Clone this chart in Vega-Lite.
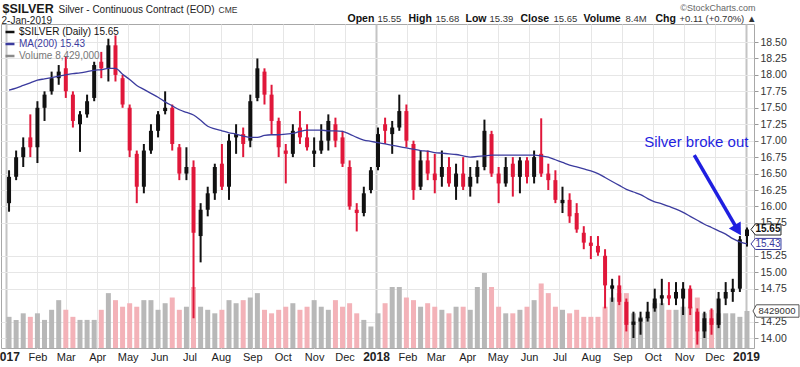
{
"$schema":"https://vega.github.io/schema/vega-lite/v6.json",
"width":753,"height":324,
"autosize":{"type":"none"},
"padding":{"left":1,"top":24,"right":46,"bottom":19},
"background":"white",
"config":{"view":{"stroke":"#a8a8a8","strokeWidth":1},"axis":{"grid":false,"labelFont":"Liberation Sans","titleFont":"Liberation Sans"},"text":{"font":"Liberation Sans"}},
"datasets":{
"px":[
{"d":"2017-01-04","o":16.05,"h":16.55,"l":15.92,"c":16.45,"v":7100000,"ma":17.77},
{"d":"2017-01-11","o":16.45,"h":16.85,"l":16.4,"c":16.75,"v":6400000,"ma":17.8},
{"d":"2017-01-18","o":16.75,"h":17.05,"l":16.6,"c":16.9,"v":7900000,"ma":17.84},
{"d":"2017-01-25","o":17.05,"h":17.4,"l":16.75,"c":16.9,"v":7100000,"ma":17.88},
{"d":"2017-02-01","o":16.9,"h":17.6,"l":16.66,"c":17.5,"v":7900000,"ma":17.92},
{"d":"2017-02-08","o":17.5,"h":17.75,"l":17.3,"c":17.7,"v":6400000,"ma":17.94},
{"d":"2017-02-15","o":17.75,"h":18.05,"l":17.7,"c":17.95,"v":8700000,"ma":17.96},
{"d":"2017-02-22","o":17.95,"h":18.15,"l":17.85,"c":18.05,"v":10900000,"ma":17.98},
{"d":"2017-03-01","o":18.1,"h":18.28,"l":17.65,"c":17.75,"v":8700000,"ma":18.0},
{"d":"2017-03-08","o":17.7,"h":17.75,"l":17.2,"c":17.3,"v":7100000,"ma":18.02},
{"d":"2017-03-15","o":17.25,"h":17.45,"l":16.83,"c":17.4,"v":6400000,"ma":18.03},
{"d":"2017-03-22","o":17.4,"h":17.7,"l":17.35,"c":17.6,"v":6400000,"ma":18.05},
{"d":"2017-03-29","o":17.65,"h":18.2,"l":17.6,"c":18.15,"v":6400000,"ma":18.07},
{"d":"2017-04-05","o":18.2,"h":18.35,"l":17.95,"c":18.1,"v":8700000,"ma":18.08},
{"d":"2017-04-12","o":18.1,"h":18.55,"l":17.9,"c":18.45,"v":12500000,"ma":18.1},
{"d":"2017-04-19","o":18.45,"h":18.6,"l":17.9,"c":18.0,"v":10900000,"ma":18.1},
{"d":"2017-04-26","o":17.95,"h":18.0,"l":17.5,"c":17.55,"v":9400000,"ma":18.01},
{"d":"2017-05-03","o":17.5,"h":17.55,"l":16.75,"c":16.85,"v":10200000,"ma":17.93},
{"d":"2017-05-10","o":16.8,"h":16.85,"l":16.05,"c":16.3,"v":9400000,"ma":17.84},
{"d":"2017-05-17","o":16.3,"h":16.95,"l":16.2,"c":16.85,"v":10900000,"ma":17.78},
{"d":"2017-05-24","o":16.85,"h":17.25,"l":16.8,"c":17.15,"v":10900000,"ma":17.72},
{"d":"2017-05-31","o":17.15,"h":17.45,"l":17.05,"c":17.4,"v":8700000,"ma":17.66},
{"d":"2017-06-07","o":17.45,"h":17.75,"l":17.4,"c":17.5,"v":10200000,"ma":17.59},
{"d":"2017-06-14","o":17.5,"h":17.55,"l":16.85,"c":16.95,"v":11500000,"ma":17.53},
{"d":"2017-06-21","o":16.9,"h":16.95,"l":16.4,"c":16.5,"v":8700000,"ma":17.47},
{"d":"2017-06-28","o":16.5,"h":16.9,"l":16.4,"c":16.6,"v":9400000,"ma":17.43},
{"d":"2017-07-05","o":16.6,"h":16.7,"l":14.3,"c":15.6,"v":13900000,"ma":17.39},
{"d":"2017-07-12","o":15.55,"h":16.05,"l":15.15,"c":15.95,"v":9400000,"ma":17.31},
{"d":"2017-07-19","o":15.95,"h":16.3,"l":15.85,"c":16.2,"v":8700000,"ma":17.22},
{"d":"2017-07-26","o":16.2,"h":16.65,"l":16.1,"c":16.6,"v":7900000,"ma":17.18},
{"d":"2017-08-02","o":16.65,"h":16.95,"l":16.25,"c":16.3,"v":8700000,"ma":17.15},
{"d":"2017-08-09","o":16.3,"h":17.1,"l":16.1,"c":17.0,"v":10900000,"ma":17.12},
{"d":"2017-08-16","o":17.05,"h":17.25,"l":16.8,"c":17.1,"v":10200000,"ma":17.1},
{"d":"2017-08-23","o":17.1,"h":17.2,"l":16.75,"c":16.95,"v":10900000,"ma":17.07},
{"d":"2017-08-30","o":17.0,"h":17.7,"l":16.9,"c":17.6,"v":11500000,"ma":17.05},
{"d":"2017-09-06","o":17.65,"h":18.25,"l":17.6,"c":18.1,"v":12500000,"ma":17.05},
{"d":"2017-09-13","o":18.05,"h":18.1,"l":17.55,"c":17.7,"v":8700000,"ma":17.08},
{"d":"2017-09-20","o":17.7,"h":17.85,"l":17.1,"c":17.3,"v":7900000,"ma":17.09},
{"d":"2017-09-27","o":17.3,"h":17.35,"l":16.75,"c":16.9,"v":8700000,"ma":17.09},
{"d":"2017-10-04","o":16.85,"h":16.95,"l":16.35,"c":16.8,"v":9400000,"ma":17.1},
{"d":"2017-10-11","o":16.8,"h":17.25,"l":16.75,"c":17.15,"v":10200000,"ma":17.11},
{"d":"2017-10-18","o":17.2,"h":17.45,"l":16.95,"c":17.05,"v":8700000,"ma":17.14},
{"d":"2017-10-25","o":17.05,"h":17.25,"l":16.85,"c":16.9,"v":9400000,"ma":17.16},
{"d":"2017-11-01","o":16.8,"h":17.05,"l":16.6,"c":16.85,"v":10900000,"ma":17.16},
{"d":"2017-11-08","o":16.85,"h":17.25,"l":16.8,"c":17.0,"v":9400000,"ma":17.16},
{"d":"2017-11-15","o":17.0,"h":17.4,"l":16.85,"c":17.3,"v":8700000,"ma":17.15},
{"d":"2017-11-22","o":17.25,"h":17.35,"l":16.9,"c":17.0,"v":10900000,"ma":17.15},
{"d":"2017-11-29","o":17.05,"h":17.15,"l":16.6,"c":16.65,"v":9400000,"ma":17.14},
{"d":"2017-12-06","o":16.6,"h":16.7,"l":15.95,"c":16.0,"v":10200000,"ma":17.1},
{"d":"2017-12-13","o":15.95,"h":16.05,"l":15.62,"c":15.9,"v":7900000,"ma":17.05},
{"d":"2017-12-20","o":15.9,"h":16.3,"l":15.85,"c":16.2,"v":6400000,"ma":17.01},
{"d":"2017-12-27","o":16.25,"h":16.6,"l":16.2,"c":16.55,"v":4900000,"ma":16.99},
{"d":"2018-01-03","o":16.6,"h":17.2,"l":16.55,"c":17.1,"v":7900000,"ma":16.97},
{"d":"2018-01-10","o":17.25,"h":17.35,"l":16.95,"c":17.15,"v":10200000,"ma":16.95},
{"d":"2018-01-17","o":17.1,"h":17.3,"l":16.8,"c":17.2,"v":13900000,"ma":16.93},
{"d":"2018-01-24","o":17.2,"h":17.7,"l":17.15,"c":17.45,"v":13900000,"ma":16.91},
{"d":"2018-01-31","o":17.45,"h":17.55,"l":16.9,"c":17.0,"v":11500000,"ma":16.89},
{"d":"2018-02-07","o":16.95,"h":17.0,"l":16.1,"c":16.25,"v":10900000,"ma":16.87},
{"d":"2018-02-14","o":16.3,"h":16.85,"l":16.25,"c":16.7,"v":9400000,"ma":16.85},
{"d":"2018-02-21","o":16.7,"h":16.85,"l":16.4,"c":16.5,"v":10200000,"ma":16.84},
{"d":"2018-02-28","o":16.5,"h":16.8,"l":16.2,"c":16.4,"v":9400000,"ma":16.82},
{"d":"2018-03-07","o":16.45,"h":16.85,"l":16.3,"c":16.6,"v":8700000,"ma":16.81},
{"d":"2018-03-14","o":16.6,"h":16.75,"l":16.3,"c":16.35,"v":7900000,"ma":16.8},
{"d":"2018-03-21","o":16.3,"h":16.65,"l":16.1,"c":16.5,"v":9400000,"ma":16.79},
{"d":"2018-03-28","o":16.5,"h":16.75,"l":16.25,"c":16.3,"v":9400000,"ma":16.77},
{"d":"2018-04-04","o":16.3,"h":16.6,"l":16.15,"c":16.45,"v":8700000,"ma":16.75},
{"d":"2018-04-11","o":16.45,"h":16.7,"l":16.35,"c":16.6,"v":13900000,"ma":16.76},
{"d":"2018-04-18","o":16.6,"h":17.32,"l":16.55,"c":17.15,"v":17100000,"ma":16.77},
{"d":"2018-04-25","o":17.1,"h":17.15,"l":16.45,"c":16.5,"v":13900000,"ma":16.78},
{"d":"2018-05-02","o":16.5,"h":16.6,"l":16.05,"c":16.35,"v":9400000,"ma":16.78},
{"d":"2018-05-09","o":16.35,"h":16.75,"l":16.3,"c":16.6,"v":7900000,"ma":16.78},
{"d":"2018-05-16","o":16.65,"h":16.75,"l":16.15,"c":16.45,"v":7900000,"ma":16.78},
{"d":"2018-05-23","o":16.45,"h":16.75,"l":16.2,"c":16.7,"v":8700000,"ma":16.78},
{"d":"2018-05-30","o":16.7,"h":16.75,"l":16.35,"c":16.45,"v":9400000,"ma":16.78},
{"d":"2018-06-06","o":16.45,"h":16.85,"l":16.35,"c":16.75,"v":10900000,"ma":16.78},
{"d":"2018-06-13","o":16.8,"h":17.34,"l":16.45,"c":16.5,"v":14700000,"ma":16.77},
{"d":"2018-06-20","o":16.5,"h":16.65,"l":16.25,"c":16.4,"v":12500000,"ma":16.75},
{"d":"2018-06-27","o":16.4,"h":16.55,"l":16.05,"c":16.1,"v":9400000,"ma":16.71},
{"d":"2018-07-04","o":16.05,"h":16.3,"l":15.9,"c":16.1,"v":8700000,"ma":16.67},
{"d":"2018-07-11","o":16.1,"h":16.2,"l":15.75,"c":15.85,"v":7900000,"ma":16.63},
{"d":"2018-07-18","o":15.9,"h":16.05,"l":15.6,"c":15.65,"v":8700000,"ma":16.6},
{"d":"2018-07-25","o":15.6,"h":15.7,"l":15.35,"c":15.45,"v":7100000,"ma":16.57},
{"d":"2018-08-01","o":15.45,"h":15.55,"l":15.2,"c":15.4,"v":7100000,"ma":16.54},
{"d":"2018-08-08","o":15.4,"h":15.55,"l":15.25,"c":15.3,"v":7100000,"ma":16.5},
{"d":"2018-08-15","o":15.25,"h":15.35,"l":14.45,"c":14.8,"v":9400000,"ma":16.44},
{"d":"2018-08-22","o":14.75,"h":14.9,"l":14.55,"c":14.8,"v":11500000,"ma":16.38},
{"d":"2018-08-29","o":14.8,"h":14.95,"l":14.5,"c":14.55,"v":12500000,"ma":16.32},
{"d":"2018-09-05","o":14.55,"h":14.6,"l":14.1,"c":14.2,"v":12500000,"ma":16.26},
{"d":"2018-09-12","o":14.2,"h":14.4,"l":14.0,"c":14.25,"v":7900000,"ma":16.22},
{"d":"2018-09-19","o":14.25,"h":14.4,"l":14.05,"c":14.3,"v":7100000,"ma":16.18},
{"d":"2018-09-26","o":14.3,"h":14.55,"l":14.25,"c":14.4,"v":7100000,"ma":16.12},
{"d":"2018-10-03","o":14.45,"h":14.75,"l":14.4,"c":14.6,"v":10200000,"ma":16.07},
{"d":"2018-10-10","o":14.6,"h":14.9,"l":14.5,"c":14.65,"v":10200000,"ma":16.04},
{"d":"2018-10-17","o":14.65,"h":14.85,"l":14.5,"c":14.6,"v":8700000,"ma":16.0},
{"d":"2018-10-24","o":14.6,"h":14.85,"l":14.5,"c":14.7,"v":8700000,"ma":15.96},
{"d":"2018-10-31","o":14.6,"h":14.85,"l":14.35,"c":14.75,"v":9400000,"ma":15.91},
{"d":"2018-11-07","o":14.75,"h":14.8,"l":14.35,"c":14.45,"v":9400000,"ma":15.85},
{"d":"2018-11-14","o":14.4,"h":14.45,"l":13.9,"c":14.1,"v":11500000,"ma":15.79},
{"d":"2018-11-21","o":14.1,"h":14.4,"l":14.0,"c":14.3,"v":7900000,"ma":15.73},
{"d":"2018-11-28","o":14.3,"h":14.45,"l":14.05,"c":14.2,"v":8700000,"ma":15.68},
{"d":"2018-12-05","o":14.2,"h":14.7,"l":14.15,"c":14.6,"v":7900000,"ma":15.63},
{"d":"2018-12-12","o":14.6,"h":14.85,"l":14.5,"c":14.7,"v":7900000,"ma":15.58},
{"d":"2018-12-19","o":14.7,"h":14.9,"l":14.55,"c":14.75,"v":7900000,"ma":15.51},
{"d":"2018-12-26","o":14.75,"h":15.55,"l":14.7,"c":15.5,"v":7100000,"ma":15.46},
{"d":"2019-01-02","o":15.55,"h":15.68,"l":15.39,"c":15.65,"v":8429000,"ma":15.43}
],
"note":[{"d":"2018-11-13","p":16.9,"t":"Silver broke out"}],
"arrow":[{"d":"2018-11-11","p":16.78,"d2":"2018-12-24","p2":15.64}]
},
"resolve":{"scale":{"y":"independent"},"axis":{"x":"independent","y":"independent"}},
"layer":[
{"data":{"name":"px"},"mark":{"type":"bar","width":5},
 "encoding":{
  "x":{"field":"d","type":"temporal","scale":{"type":"utc","domain":[{"year":2017,"month":1,"date":1,"utc":true},{"year":2019,"month":1,"date":4,"utc":true}]},
       "axis":{"orient":"top","labels":false,"ticks":false,"domain":false,"grid":false,"title":"$SILVER","titleX":1,"titleY":-12,"titleAlign":"left","titleAnchor":"start","titleBaseline":"alphabetic","titleFontSize":12.5,"titleFontWeight":"bold","titleColor":"#1a1a1a","titleAngle":0}},
  "y":{"field":"v","type":"quantitative","scale":{"domain":[0,73800000],"nice":false,"zero":true},
       "axis":{"orient":"left","labels":false,"ticks":false,"domain":false,"grid":false,"title":"Silver - Continuous Contract (EOD)","titleX":57,"titleY":-12,"titleAlign":"left","titleAnchor":"start","titleBaseline":"alphabetic","titleFontSize":10,"titleFontWeight":"normal","titleColor":"#222222","titleAngle":0}},
  "color":{"condition":{"test":"datum.c >= datum.o","value":"#b8b8b8"},"value":"#f3b2b8"}
 }},
{"data":{"name":"px"},"mark":{"type":"rule","strokeWidth":2},
 "encoding":{
  "x":{"field":"d","type":"temporal","scale":{"type":"utc","domain":[{"year":2017,"month":1,"date":1,"utc":true},{"year":2019,"month":1,"date":4,"utc":true}]},
       "axis":{"orient":"bottom","tickCount":{"interval":"month","step":1},"labelExpr":"utcFormat(datum.value,'%m')=='01' ? utcFormat(datum.value,'%Y') : utcFormat(datum.value,'%b')","labelFontWeight":{"condition":{"test":"utcFormat(datum.value,'%m')=='01'","value":"bold"},"value":"normal"},"labelFontSize":{"condition":{"test":"utcFormat(datum.value,'%m')=='01'","value":12},"value":11},"labelColor":"#222222","labelPadding":3,"labelAlign":"center","labelFlush":false,"labelOverlap":false,"labelBound":false,"ticks":false,"domain":false,"grid":true,"gridColor":{"condition":{"test":"utcFormat(datum.value,'%m')=='01'","value":"#c4c4c4"},"value":"#e6e6e6"},"gridWidth":{"condition":{"test":"utcFormat(datum.value,'%m')=='01'","value":2},"value":1},"title":null}},
  "y":{"field":"l","type":"quantitative","scale":{"domain":[13.848,18.774],"zero":false,"nice":false},
       "axis":{"orient":"right","values":[14,14.25,14.75,15,15.25,15.75,16,16.25,16.5,16.75,17,17.25,17.5,17.75,18,18.25,18.5],"format":".2f","grid":true,"gridColor":"#e6e6e6","ticks":true,"tickSize":4,"tickColor":"#999999","domain":false,"labelColor":"#333333","labelFontSize":10.5,"labelPadding":2,"labelFlush":false,"labelOverlap":false,"labelBound":false,"title":null}},
  "y2":{"field":"h"},
  "color":{"condition":{"test":"datum.c >= datum.o","value":"#111111"},"value":"#e0173a"}
 }},
{"data":{"name":"px"},"mark":{"type":"bar","width":4},
 "encoding":{
  "x":{"field":"d","type":"temporal","scale":{"type":"utc","domain":[{"year":2017,"month":1,"date":1,"utc":true},{"year":2019,"month":1,"date":4,"utc":true}]},
       "axis":{"orient":"top","labels":false,"ticks":false,"domain":false,"grid":false,"title":"CME","titleX":217,"titleY":-12,"titleAlign":"left","titleAnchor":"start","titleBaseline":"alphabetic","titleFontSize":8.5,"titleFontWeight":"normal","titleColor":"#333333","titleAngle":0}},
  "y":{"field":"o","type":"quantitative","scale":{"domain":[13.848,18.774],"zero":false,"nice":false},
       "axis":{"orient":"left","labels":false,"ticks":false,"domain":false,"grid":false,"title":"2-Jan-2019","titleX":0,"titleY":-0.5,"titleAlign":"left","titleAnchor":"start","titleBaseline":"alphabetic","titleFontSize":10,"titleFontWeight":"normal","titleColor":"#222222","titleAngle":0}},
  "y2":{"field":"c"},
  "color":{"condition":{"test":"datum.c >= datum.o","value":"#111111"},"value":"#e0173a"}
 }},
{"data":{"name":"px"},"mark":{"type":"line","strokeWidth":1.3,"interpolate":"monotone"},
 "encoding":{
  "x":{"field":"d","type":"temporal","scale":{"type":"utc","domain":[{"year":2017,"month":1,"date":1,"utc":true},{"year":2019,"month":1,"date":4,"utc":true}]},
       "axis":{"orient":"top","labels":false,"ticks":false,"domain":false,"grid":false,"title":"©StockCharts.com","titleX":754,"titleY":-14,"titleAlign":"right","titleAnchor":"end","titleBaseline":"alphabetic","titleFontSize":9,"titleFontWeight":"normal","titleColor":"#666666","titleAngle":0}},
  "y":{"field":"ma","type":"quantitative","scale":{"domain":[13.848,18.774],"zero":false,"nice":false},
       "axis":{"orient":"left","labels":false,"ticks":false,"domain":false,"grid":false,"title":"Open","titleX":346,"titleY":-3,"titleAlign":"left","titleAnchor":"start","titleBaseline":"alphabetic","titleFontSize":10.5,"titleFontWeight":"bold","titleColor":"#111111","titleAngle":0}},
  "color":{"datum":"MA(200) 15.43","type":"nominal",
    "scale":{"domain":["$SILVER (Daily) 15.65","MA(200) 15.43","Volume 8,429,000"],"range":["#111111","#3b3b9e","#8a8a8a"]},
    "legend":{"title":null,"orient":"none","legendX":3,"legendY":2,"padding":0,"rowPadding":1,"symbolType":"stroke","symbolSize":80,"symbolStrokeWidth":2.5,"labelOffset":3,"labelFont":"Liberation Sans","labelFontSize":10,"labelLimit":300,
      "labelColor":{"expr":"datum.value == 'MA(200) 15.43' ? '#3b3b9e' : datum.value == 'Volume 8,429,000' ? '#777777' : '#111111'"}}}
 }},
{"data":{"name":"note"},"mark":{"type":"text","align":"center","baseline":"alphabetic","fontSize":15,"color":"#1f1fe0"},
 "encoding":{
  "x":{"field":"d","type":"temporal","scale":{"type":"utc","domain":[{"year":2017,"month":1,"date":1,"utc":true},{"year":2019,"month":1,"date":4,"utc":true}]},
       "axis":{"orient":"top","labels":false,"ticks":false,"domain":false,"grid":false,"title":"15.55","titleX":376,"titleY":-3,"titleAlign":"left","titleAnchor":"start","titleBaseline":"alphabetic","titleFontSize":9.5,"titleFontWeight":"normal","titleColor":"#333333","titleAngle":0}},
  "y":{"field":"p","type":"quantitative","scale":{"domain":[13.848,18.774],"zero":false,"nice":false},
       "axis":{"orient":"left","labels":false,"ticks":false,"domain":false,"grid":false,"title":"High","titleX":407,"titleY":-3,"titleAlign":"left","titleAnchor":"start","titleBaseline":"alphabetic","titleFontSize":10.5,"titleFontWeight":"bold","titleColor":"#111111","titleAngle":0}},
  "text":{"field":"t"}
 }},
{"data":{"name":"arrow"},"mark":{"type":"rule","strokeWidth":3.5,"color":"#1f1fe0"},
 "encoding":{
  "x":{"field":"d","type":"temporal","scale":{"type":"utc","domain":[{"year":2017,"month":1,"date":1,"utc":true},{"year":2019,"month":1,"date":4,"utc":true}]},
       "axis":{"orient":"top","labels":false,"ticks":false,"domain":false,"grid":false,"title":"15.68","titleX":434,"titleY":-3,"titleAlign":"left","titleAnchor":"start","titleBaseline":"alphabetic","titleFontSize":9.5,"titleFontWeight":"normal","titleColor":"#333333","titleAngle":0}},
  "y":{"field":"p","type":"quantitative","scale":{"domain":[13.848,18.774],"zero":false,"nice":false},
       "axis":{"orient":"left","labels":false,"ticks":false,"domain":false,"grid":false,"title":"Low","titleX":464,"titleY":-3,"titleAlign":"left","titleAnchor":"start","titleBaseline":"alphabetic","titleFontSize":10.5,"titleFontWeight":"bold","titleColor":"#111111","titleAngle":0}},
  "x2":{"field":"d2"},
  "y2":{"field":"p2"}
 }},
{"data":{"name":"arrow"},"mark":{"type":"point","shape":"triangle-down","filled":true,"size":190,"angle":329,"color":"#1f1fe0","opacity":1},
 "encoding":{
  "x":{"field":"d2","type":"temporal","scale":{"type":"utc","domain":[{"year":2017,"month":1,"date":1,"utc":true},{"year":2019,"month":1,"date":4,"utc":true}]},
       "axis":{"orient":"top","labels":false,"ticks":false,"domain":false,"grid":false,"title":"15.39","titleX":488,"titleY":-3,"titleAlign":"left","titleAnchor":"start","titleBaseline":"alphabetic","titleFontSize":9.5,"titleFontWeight":"normal","titleColor":"#333333","titleAngle":0}},
  "y":{"field":"p2","type":"quantitative","scale":{"domain":[13.848,18.774],"zero":false,"nice":false},
       "axis":{"orient":"left","labels":false,"ticks":false,"domain":false,"grid":false,"title":"Close","titleX":519,"titleY":-3,"titleAlign":"left","titleAnchor":"start","titleBaseline":"alphabetic","titleFontSize":10.5,"titleFontWeight":"bold","titleColor":"#111111","titleAngle":0}}
 }},
{"data":{"name":"px"},"transform":[{"filter":"year(datum.d) >= 2019"}],
 "mark":{"type":"point","shape":"M-1,0L-0.7,-0.37L1,-0.37L1,0.37L-0.7,0.37Z","filled":true,"fill":"#ffffff","stroke":"#222222","strokeWidth":1,"size":900,"xOffset":19,"opacity":1},
 "encoding":{
  "x":{"field":"d","type":"temporal","scale":{"type":"utc","domain":[{"year":2017,"month":1,"date":1,"utc":true},{"year":2019,"month":1,"date":4,"utc":true}]},
       "axis":{"orient":"top","labels":false,"ticks":false,"domain":false,"grid":false,"title":"15.65","titleX":552,"titleY":-3,"titleAlign":"left","titleAnchor":"start","titleBaseline":"alphabetic","titleFontSize":9.5,"titleFontWeight":"normal","titleColor":"#333333","titleAngle":0}},
  "y":{"field":"c","type":"quantitative","scale":{"domain":[13.848,18.774],"zero":false,"nice":false},
       "axis":{"orient":"left","labels":false,"ticks":false,"domain":false,"grid":false,"title":"Volume","titleX":582,"titleY":-3,"titleAlign":"left","titleAnchor":"start","titleBaseline":"alphabetic","titleFontSize":10.5,"titleFontWeight":"bold","titleColor":"#111111","titleAngle":0}}
 }},
{"data":{"name":"px"},"transform":[{"filter":"year(datum.d) >= 2019"}],
 "mark":{"type":"text","align":"center","baseline":"middle","fontSize":10,"fontWeight":"bold","color":"#111111","xOffset":21},
 "encoding":{
  "x":{"field":"d","type":"temporal","scale":{"type":"utc","domain":[{"year":2017,"month":1,"date":1,"utc":true},{"year":2019,"month":1,"date":4,"utc":true}]},
       "axis":{"orient":"top","labels":false,"ticks":false,"domain":false,"grid":false,"title":"8.4M","titleX":624,"titleY":-3,"titleAlign":"left","titleAnchor":"start","titleBaseline":"alphabetic","titleFontSize":9.5,"titleFontWeight":"normal","titleColor":"#333333","titleAngle":0}},
  "y":{"field":"c","type":"quantitative","scale":{"domain":[13.848,18.774],"zero":false,"nice":false},
       "axis":{"orient":"left","labels":false,"ticks":false,"domain":false,"grid":false,"title":"Chg","titleX":654,"titleY":-3,"titleAlign":"left","titleAnchor":"start","titleBaseline":"alphabetic","titleFontSize":10.5,"titleFontWeight":"bold","titleColor":"#111111","titleAngle":0}},
  "text":{"field":"c","type":"quantitative","format":".2f"}
 }},
{"data":{"name":"px"},"transform":[{"filter":"year(datum.d) >= 2019"}],
 "mark":{"type":"point","shape":"M-1,0L-0.7,-0.37L1,-0.37L1,0.37L-0.7,0.37Z","filled":true,"fill":"#ffffff","stroke":"#3b3b9e","strokeWidth":1,"size":900,"xOffset":19,"opacity":1},
 "encoding":{
  "x":{"field":"d","type":"temporal","scale":{"type":"utc","domain":[{"year":2017,"month":1,"date":1,"utc":true},{"year":2019,"month":1,"date":4,"utc":true}]},
       "axis":{"orient":"top","labels":false,"ticks":false,"domain":false,"grid":false,"title":"+0.11 (+0.70%) ▲","titleX":678,"titleY":-3,"titleAlign":"left","titleAnchor":"start","titleBaseline":"alphabetic","titleFontSize":9.5,"titleFontWeight":"normal","titleColor":"#333333","titleAngle":0}},
  "y":{"field":"ma","type":"quantitative","scale":{"domain":[13.848,18.774],"zero":false,"nice":false},"axis":null}
 }},
{"data":{"name":"px"},"transform":[{"filter":"year(datum.d) >= 2019"}],
 "mark":{"type":"text","align":"center","baseline":"middle","fontSize":10,"color":"#3b3b9e","xOffset":21},
 "encoding":{
  "x":{"field":"d","type":"temporal","scale":{"type":"utc","domain":[{"year":2017,"month":1,"date":1,"utc":true},{"year":2019,"month":1,"date":4,"utc":true}]},"axis":null},
  "y":{"field":"ma","type":"quantitative","scale":{"domain":[13.848,18.774],"zero":false,"nice":false},"axis":null},
  "text":{"field":"ma","type":"quantitative","format":".2f"}
 }},
{"data":{"name":"px"},"transform":[{"filter":"year(datum.d) >= 2019"}],
 "mark":{"type":"point","shape":"M-1,0L-0.85,-0.27L1,-0.27L1,0.27L-0.85,0.27Z","filled":true,"fill":"#ffffff","stroke":"#555555","strokeWidth":1,"size":2116,"xOffset":29,"opacity":1},
 "encoding":{
  "x":{"field":"d","type":"temporal","scale":{"type":"utc","domain":[{"year":2017,"month":1,"date":1,"utc":true},{"year":2019,"month":1,"date":4,"utc":true}]},"axis":null},
  "y":{"field":"v","type":"quantitative","scale":{"domain":[0,73800000],"nice":false,"zero":true},"axis":null}
 }},
{"data":{"name":"px"},"transform":[{"filter":"year(datum.d) >= 2019"}],
 "mark":{"type":"text","align":"center","baseline":"middle","fontSize":9.5,"color":"#333333","xOffset":30},
 "encoding":{
  "x":{"field":"d","type":"temporal","scale":{"type":"utc","domain":[{"year":2017,"month":1,"date":1,"utc":true},{"year":2019,"month":1,"date":4,"utc":true}]},"axis":null},
  "y":{"field":"v","type":"quantitative","scale":{"domain":[0,73800000],"nice":false,"zero":true},"axis":null},
  "text":{"field":"v","type":"quantitative","format":"d"}
 }}
]
}
